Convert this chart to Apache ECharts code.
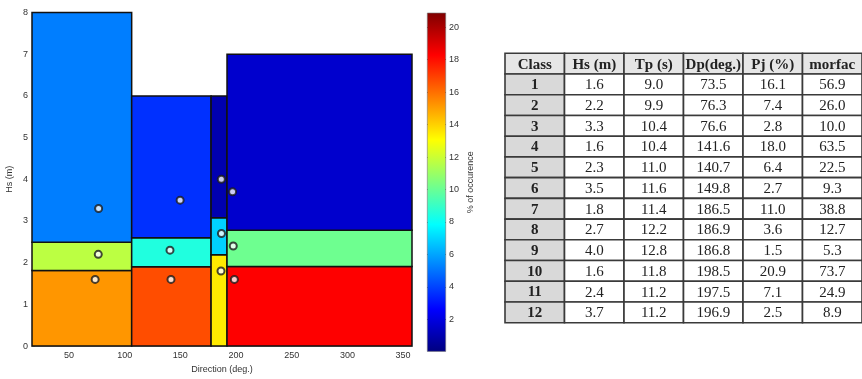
<!DOCTYPE html>
<html><head><meta charset="utf-8">
<script src="https://cdn.jsdelivr.net/npm/echarts@6/dist/echarts.min.js"></script>
<style>html,body{margin:0;padding:0;background:#fff}#c{width:862px;height:379px}</style>
</head><body><div id="c"></div>
<script>
// ---- data ----
const dirEdges = [16.8, 106.3, 177.6, 191.9, 358];
const hsEdges = [[0, 1.81, 2.49, 8], [0, 1.9, 2.6, 6], [0, 2.19, 3.08, 6], [0, 1.91, 2.78, 7]];
const binPct = [[15.2, 11.7, 5.2], [16.7, 8.5, 3.6], [13.5, 6.9, 1.0], [18.3, 10.1, 1.6]];
const classIds = [1, 2, 3, 4, 5, 6, 7, 8, 9, 10, 11, 12];
const hsVals = [1.6, 2.2, 3.3, 1.6, 2.3, 3.5, 1.8, 2.7, 4.0, 1.6, 2.4, 3.7];
const tpVals = [9.0, 9.9, 10.4, 10.4, 11.0, 11.6, 11.4, 12.2, 12.8, 11.8, 11.2, 11.2];
const dpVals = [73.5, 76.3, 76.6, 141.6, 140.7, 149.8, 186.5, 186.9, 186.8, 198.5, 197.5, 196.9];
const pjVals = [16.1, 7.4, 2.8, 18.0, 6.4, 2.7, 11.0, 3.6, 1.5, 20.9, 7.1, 2.5];
const morfacVals = [56.9, 26.0, 10.0, 63.5, 22.5, 9.3, 38.8, 12.7, 5.3, 73.7, 24.9, 8.9];
const tableHeaders = ['Class', 'Hs (m)', 'Tp (s)', 'Dp(deg.)', 'Pj (%)', 'morfac'];
const xTicks = [50, 100, 150, 200, 250, 300, 350];
const yTicks = [0, 1, 2, 3, 4, 5, 6, 7, 8];
const cbTicks = [2, 4, 6, 8, 10, 12, 14, 16, 18, 20];
const cbMax = 20.9;

// ---- build ----
const jet = ['#00007f', '#0000ff', '#007fff', '#00ffff', '#7fff7f', '#ffff00', '#ff7f00', '#ff0000', '#7f0000'];
const rectData = [];
for (let b = 0; b < 4; b++) for (let k = 0; k < 3; k++)
  rectData.push([dirEdges[b], dirEdges[b + 1], hsEdges[b][k], hsEdges[b][k + 1], binPct[b][k]]);
const dots = dpVals.map((d, i) => [d, hsVals[i]]);
const tableCols = [classIds, hsVals, tpVals, dpVals, pjVals, morfacVals];
const tableData = [];
for (let r = 0; r <= classIds.length; r++) for (let c = 0; c < tableHeaders.length; c++) tableData.push([c, r]);
function cellText(c, r) {
  if (r === 0) return tableHeaders[c];
  const v = tableCols[c][r - 1];
  return c === 0 ? String(v) : v.toFixed(1);
}
const rowIdx = [];
for (let r = 0; r <= classIds.length; r++) rowIdx.push(r);

const chart = echarts.init(document.getElementById('c'), null, { renderer: 'canvas' });
const axisFont = { fontFamily: 'Liberation Sans, Arial', fontSize: 9, color: '#333' };
chart.setOption({
  animation: false,
  grid: [
    { left: 32, top: 12.5, width: 380, bottom: 27.3 },
    { left: 427, top: 12.7, width: 19, bottom: 27.3 },
    { left: 505, top: 53.3, width: 357, bottom: 56.3 }
  ],
  visualMap: { show: false, type: 'continuous', min: 0, max: cbMax, dimension: 4, seriesIndex: 0, inRange: { color: jet } },
  xAxis: [
    { type: 'value', gridIndex: 0, min: 16.8, max: 358, name: 'Direction (deg.)', nameLocation: 'middle', nameGap: 21,
      nameTextStyle: Object.assign({ verticalAlign: 'middle' }, axisFont),
      axisLine: { show: true, lineStyle: { color: '#aaa', width: 1 } },
      axisTick: { show: true, inside: true, length: 3, customValues: xTicks, lineStyle: { color: '#888' } },
      axisLabel: Object.assign({ customValues: xTicks, margin: 5 }, axisFont), splitLine: { show: false } },
    { type: 'category', gridIndex: 1, data: ['c'], show: false },
    { type: 'category', gridIndex: 2, data: [0, 1, 2, 3, 4, 5], show: false }
  ],
  yAxis: [
    { type: 'value', gridIndex: 0, min: 0, max: 8, interval: 1, name: 'Hs (m)', nameLocation: 'middle', nameGap: 18,
      nameRotate: 90, nameTextStyle: axisFont,
      axisLine: { show: true, lineStyle: { color: '#aaa', width: 1 } },
      axisTick: { show: true, inside: true, length: 3, lineStyle: { color: '#888' } },
      axisLabel: Object.assign({ margin: 4 }, axisFont), splitLine: { show: false } },
    { type: 'value', gridIndex: 1, min: 0, max: cbMax, position: 'right', name: '% of occurence', nameLocation: 'middle',
      nameGap: 20, nameRotate: 90, nameTextStyle: axisFont,
      axisLine: { show: false },
      axisTick: { show: true, inside: true, length: 3, customValues: cbTicks, lineStyle: { color: '#333' } },
      axisLabel: Object.assign({ customValues: cbTicks, margin: 3 }, axisFont), splitLine: { show: false } },
    { type: 'category', gridIndex: 2, data: rowIdx, inverse: true, show: false },
    { type: 'value', gridIndex: 1, min: 0, max: cbMax, position: 'left',
      axisLine: { show: false },
      axisTick: { show: true, inside: true, length: 3, customValues: cbTicks, lineStyle: { color: '#333' } },
      axisLabel: { show: false }, splitLine: { show: false } }
  ],
  series: [
    { type: 'custom', xAxisIndex: 0, yAxisIndex: 0, data: rectData, encode: { x: [0, 1], y: [2, 3] }, z: 2,
      renderItem: function (params, api) {
        const p0 = api.coord([api.value(0), api.value(2)]);
        const p1 = api.coord([api.value(1), api.value(3)]);
        return { type: 'rect', shape: { x: p0[0], y: p1[1], width: p1[0] - p0[0], height: p0[1] - p1[1] },
          style: { fill: api.visual('color'), stroke: '#111', lineWidth: 1.5 } };
      } },
    { type: 'scatter', xAxisIndex: 0, yAxisIndex: 0, data: dots, symbol: 'circle', symbolSize: 7, z: 5,
      itemStyle: { color: '#fff', borderColor: '#1a1a1a', borderWidth: 2 } },
    { type: 'bar', xAxisIndex: 1, yAxisIndex: 1, data: [cbMax], barWidth: '100%', z: 1,
      itemStyle: { borderColor: '#777', borderWidth: 0.6,
        color: new echarts.graphic.LinearGradient(0, 1, 0, 0, jet.map((c, i) => ({ offset: i / (jet.length - 1), color: c }))) } },
    { type: 'custom', xAxisIndex: 2, yAxisIndex: 2, data: tableData, encode: { x: 0, y: 1 },
      renderItem: function (params, api) {
        const c = api.value(0), r = api.value(1);
        const ctr = api.coord([c, r]);
        const sz = api.size([1, 1]);
        const fill = r === 0 ? '#e6e6e6' : (c === 0 ? '#d9d9d9' : '#ffffff');
        const bold = r === 0 || c === 0;
        return { type: 'group', children: [
          { type: 'rect', shape: { x: ctr[0] - sz[0] / 2, y: ctr[1] - sz[1] / 2, width: sz[0], height: sz[1] },
            style: { fill: fill, stroke: '#3a3a3a', lineWidth: 1.6 } },
          { type: 'text', style: { text: cellText(c, r), x: ctr[0], y: ctr[1] + 1, align: 'center', verticalAlign: 'middle',
            font: (bold ? 'bold ' : '') + '15px "Liberation Serif", "Times New Roman", serif', fill: '#222' } }
        ] };
      } }
  ]
});
</script></body></html>
